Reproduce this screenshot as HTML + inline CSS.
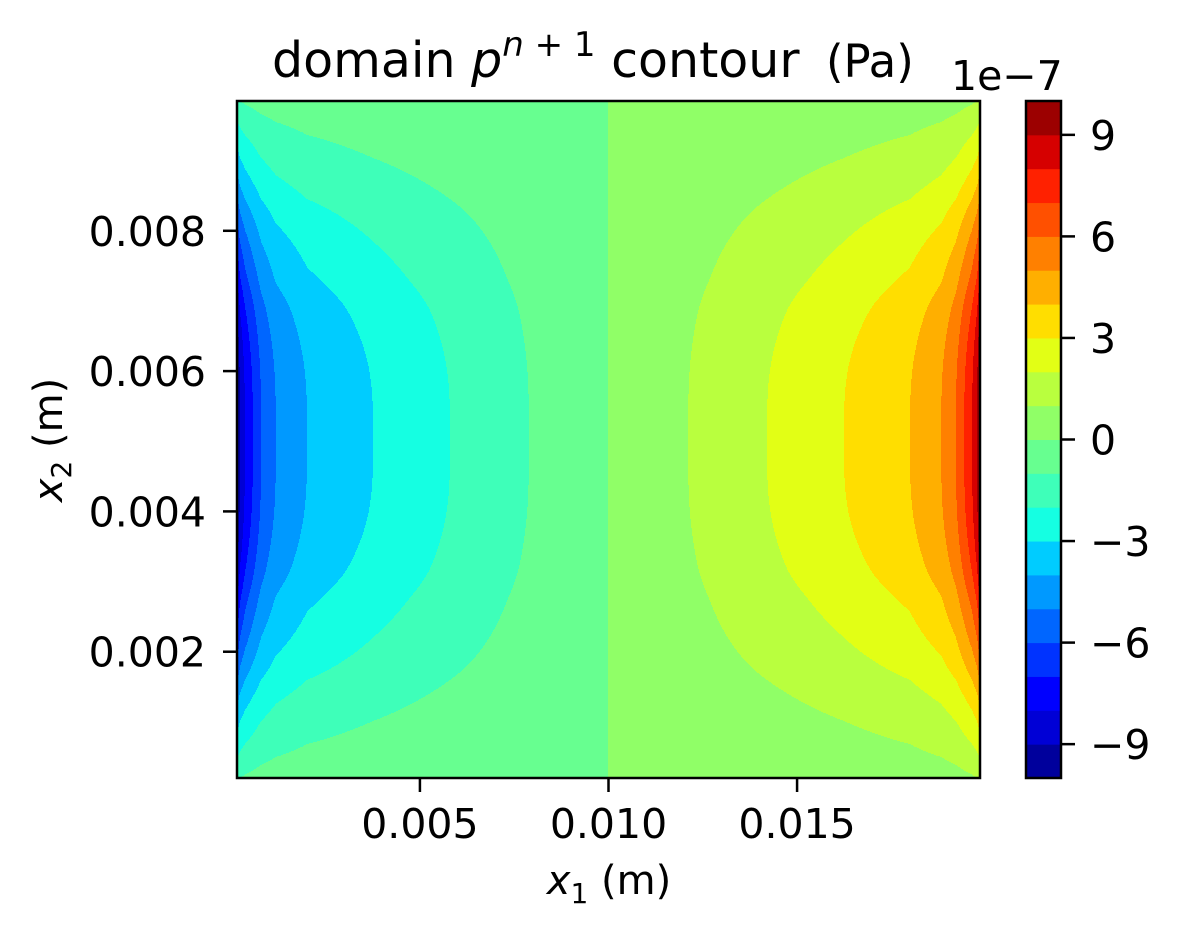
<!DOCTYPE html>
<html><head><meta charset="utf-8">
<style>
html,body{margin:0;padding:0;background:#fff;}
svg{display:block;font-family:"DejaVu Sans","Liberation Sans",sans-serif;}
</style></head>
<body>
<svg id="chart" width="1181" height="938" viewBox="0 0 1181 938" xmlns="http://www.w3.org/2000/svg">
  <rect width="1181" height="938" fill="#fff"/>
  <g id="field"></g>
  <rect x="237" y="101" width="743" height="677" fill="none" stroke="#000" stroke-width="2.5"/>
  <g id="xticks"></g>
  <g id="yticks"></g>
  <g id="cbar"></g>
  <text x="272" y="77" font-size="49">domain <tspan font-style="italic">p</tspan><tspan font-size="34" dy="-21" font-style="italic">n</tspan><tspan font-size="34"> + 1</tspan><tspan dy="21"> contour</tspan></text>
  <text x="826" y="77" font-size="45">(Pa)</text>
  <text x="609" y="894" font-size="40" text-anchor="middle"><tspan font-style="italic">x</tspan><tspan font-size="28" dy="9">1</tspan><tspan dy="-9"> (m)</tspan></text>
  <text transform="translate(62,440) rotate(-90)" font-size="40" text-anchor="middle"><tspan font-style="italic">x</tspan><tspan font-size="28" dy="9">2</tspan><tspan dy="-9"> (m)</tspan></text>
  <text x="951" y="90" font-size="41">1e−7</text>
</svg>
<script>
// Data (values in units of 1e-7 Pa)
const xs    = [0.00015, 0.00023, 0.00036, 0.00057, 0.00079, 0.00118, 0.00201, 0.00376, 0.00580, 0.00789, 0.01000, 0.01211, 0.01420, 0.01624, 0.01799, 0.01882, 0.01921, 0.01943, 0.01964, 0.01977, 0.01985];
const fvals = [-10.2, -9, -8, -7, -6, -5, -4, -3, -2, -1, 0, 1, 2, 3, 4, 5, 6, 7, 8, 9, 10.2];
const ys    = [0.0002, 0.00057, 0.0010, 0.0014, 0.0018, 0.00222, 0.00271, 0.00322, 0.00403, 0.005025, 0.00602, 0.00683, 0.00734, 0.00783, 0.00825, 0.00865, 0.00905, 0.00948, 0.00985];
const gvals = [0.11, 0.22, 0.33, 0.44, 0.56, 0.67, 0.78, 0.89, 0.98, 1.0, 0.98, 0.89, 0.78, 0.67, 0.56, 0.44, 0.33, 0.22, 0.11];
const levels = [-10,-9,-8,-7,-6,-5,-4,-3,-2,-1,0,1,2,3,4,5,6,7,8,9,10];
const cbTicks = [-9,-6,-3,0,3,6,9];
const xTicks = [0.005, 0.010, 0.015];
const xTickLabels = ["0.005","0.010","0.015"];
const yTicks = [0.002, 0.004, 0.006, 0.008];
const yTickLabels = ["0.002","0.004","0.006","0.008"];

const NS = "http://www.w3.org/2000/svg";
const PL=237, PR=980, PT=101, PB=778;
const X0=0.00015, X1=0.01985, Y0=0.0002, Y1=0.00985;
function sx(x){return PL+(x-X0)/(X1-X0)*(PR-PL);}
function sy(y){return PB-(y-Y0)/(Y1-Y0)*(PB-PT);}
function ix(x){return X0+(x-PL)/(PR-PL)*(X1-X0);}
function iy(p){return Y0+(PB-p)/(PB-PT)*(Y1-Y0);}
function interp(a,v,t){
  if(t<=a[0])return v[0];
  for(let i=1;i<a.length;i++){if(t<=a[i]){const u=(t-a[i-1])/(a[i]-a[i-1]);return v[i-1]+u*(v[i]-v[i-1]);}}
  return v[v.length-1];
}
function smooth(a,v,t){
  if(t<=a[0])return v[0];
  const n=a.length;
  if(t>=a[n-1])return v[n-1];
  let i=1;while(t>a[i])i++;
  const x0=a[i-1],x1=a[i],y0=v[i-1],y1=v[i],h=x1-x0,u=(t-x0)/h;
  function slope(k){
    if(k<=0)return (v[1]-v[0])/(a[1]-a[0]);
    if(k>=n-1)return (v[n-1]-v[n-2])/(a[n-1]-a[n-2]);
    return (v[k+1]-v[k-1])/(a[k+1]-a[k-1]);
  }
  const m0=slope(i-1)*h,m1=slope(i)*h;
  const u2=u*u,u3=u2*u;
  return (2*u3-3*u2+1)*y0+(u3-2*u2+u)*m0+(-2*u3+3*u2)*y1+(u3-u2)*m1;
}
function jet(t){
  function seg(pts){for(let i=1;i<pts.length;i++){if(t<=pts[i][0]){const u=(t-pts[i-1][0])/(pts[i][0]-pts[i-1][0]);return pts[i-1][1]+u*(pts[i][1]-pts[i-1][1]);}}return pts[pts.length-1][1];}
  const r=seg([[0,0],[0.35,0],[0.66,1],[0.89,1],[1,0.5]]);
  const g=seg([[0,0],[0.125,0],[0.375,1],[0.64,1],[0.91,0],[1,0]]);
  const b=seg([[0,0.5],[0.11,1],[0.34,1],[0.65,0],[1,0]]);
  return "rgb("+Math.round(r*255)+","+Math.round(g*255)+","+Math.round(b*255)+")";
}
const nb=levels.length-1;
const bandColors=[];
for(let i=0;i<nb;i++)bandColors.push(jet((i+0.5)/nb));
function band(v){
  for(let i=0;i<nb;i++){if(v<levels[i+1])return Math.max(i,0);}
  return nb-1;
}
const field=document.getElementById("field");
const gcache=[];
for(let py=PT;py<PB;py++)gcache.push(smooth(ys,gvals,iy(py+0.5)));
for(let px=PL;px<PR;px++){
  const f=interp(xs,fvals,ix(px+0.5));
  let start=PT, cur=band(f*gcache[0]);
  for(let py=PT+1;py<=PB;py++){
    const b= py<PB ? band(f*gcache[py-PT]) : -1;
    if(b!==cur){
      const r=document.createElementNS(NS,"rect");
      r.setAttribute("x",px);r.setAttribute("y",start);
      r.setAttribute("width",1.6);r.setAttribute("height",py-start+0.6);
      r.setAttribute("fill",bandColors[cur]);
      
      
      field.appendChild(r);
      start=py;cur=b;
    }
  }
}
const xg=document.getElementById("xticks");
xTicks.forEach((t,i)=>{
  const X=sx(t);
  const l=document.createElementNS(NS,"line");
  l.setAttribute("x1",X);l.setAttribute("x2",X);l.setAttribute("y1",PB);l.setAttribute("y2",PB+14);
  l.setAttribute("stroke","#000");l.setAttribute("stroke-width","2.5");
  
  
  xg.appendChild(l);
  const tx=document.createElementNS(NS,"text");
  tx.setAttribute("x",X);tx.setAttribute("y",PB+60);tx.setAttribute("font-size","41");tx.setAttribute("text-anchor","middle");
  tx.textContent=xTickLabels[i];
  
  
  xg.appendChild(tx);
});
const yg=document.getElementById("yticks");
yTicks.forEach((t,i)=>{
  const Y=sy(t);
  const l=document.createElementNS(NS,"line");
  l.setAttribute("x1",PL-14);l.setAttribute("x2",PL);l.setAttribute("y1",Y);l.setAttribute("y2",Y);
  l.setAttribute("stroke","#000");l.setAttribute("stroke-width","2.5");
  
  
  yg.appendChild(l);
  const tx=document.createElementNS(NS,"text");
  tx.setAttribute("x",206);tx.setAttribute("y",Y+15);tx.setAttribute("font-size","41");tx.setAttribute("text-anchor","end");
  tx.textContent=yTickLabels[i];
  
  
  yg.appendChild(tx);
});
const CL=1026, CR=1061, CT=101, CB=778;
function cy(v){return CB-(v-levels[0])/(levels[nb]-levels[0])*(CB-CT);}
const cg=document.getElementById("cbar");
for(let i=0;i<nb;i++){
  const r=document.createElementNS(NS,"rect");
  const y1=cy(levels[i+1]), y0=cy(levels[i]);
  r.setAttribute("x",CL);r.setAttribute("y",y1);r.setAttribute("width",CR-CL);r.setAttribute("height",y0-y1+0.5);
  r.setAttribute("fill",bandColors[i]);
  
  
  cg.appendChild(r);
}
const fr=document.createElementNS(NS,"rect");
fr.setAttribute("x",CL);fr.setAttribute("y",CT);fr.setAttribute("width",CR-CL);fr.setAttribute("height",CB-CT);
fr.setAttribute("fill","none");fr.setAttribute("stroke","#000");fr.setAttribute("stroke-width","2.5");


cg.appendChild(fr);
cbTicks.forEach(t=>{
  const Y=cy(t);
  const l=document.createElementNS(NS,"line");
  l.setAttribute("x1",CR);l.setAttribute("x2",CR+14);l.setAttribute("y1",Y);l.setAttribute("y2",Y);
  l.setAttribute("stroke","#000");l.setAttribute("stroke-width","2.5");
  
  
  cg.appendChild(l);
  const tx=document.createElementNS(NS,"text");
  tx.setAttribute("x",1090);tx.setAttribute("y",Y+15);tx.setAttribute("font-size","41");
  tx.textContent=(t<0?"−":"")+Math.abs(t);
  
  
  cg.appendChild(tx);
});
</script>
</body></html>
